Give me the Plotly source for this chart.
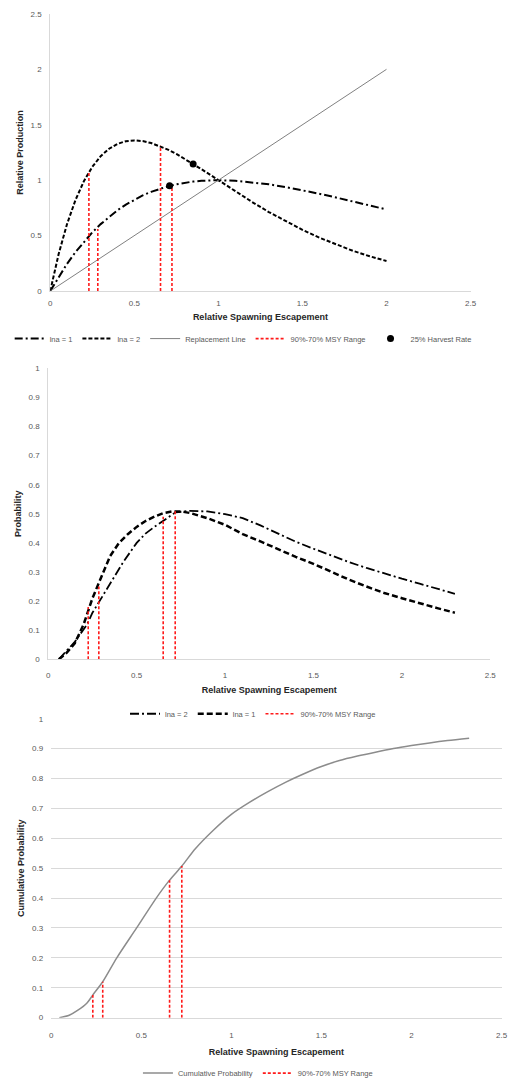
import plotly.graph_objects as go

# ---------------- Top chart data ----------------
s_top = [0, 0.05, 0.1, 0.15, 0.2, 0.25, 0.3, 0.35, 0.4, 0.45, 0.5, 0.55, 0.6, 0.65, 0.7,
         0.75, 0.8, 0.85, 0.9, 0.95, 1.0, 1.1, 1.2, 1.3, 1.4, 1.5, 1.6, 1.7, 1.8, 1.9, 2.0]
prod_lna1 = [0, 0.129, 0.246, 0.351, 0.445, 0.529, 0.604, 0.670, 0.729, 0.780, 0.824, 0.863,
             0.895, 0.922, 0.945, 0.963, 0.977, 0.988, 0.995, 0.999, 1.0, 0.995, 0.982, 0.963,
             0.938, 0.910, 0.878, 0.844, 0.809, 0.773, 0.736]
prod_lna2 = [0, 0.334, 0.605, 0.821, 0.991, 1.120, 1.217, 1.284, 1.328, 1.352, 1.359, 1.353,
             1.335, 1.309, 1.276, 1.237, 1.193, 1.147, 1.099, 1.050, 1.0, 0.901, 0.804, 0.713,
             0.629, 0.552, 0.482, 0.419, 0.363, 0.314, 0.271]
repl_x = [0, 2]
repl_y = [0, 2]
msy_x_top = [0.23, 0.283, 0.656, 0.724]
msy_y_top = [1.07, 0.56, 1.31, 0.93]
harvest_x = [0.71, 0.85]
harvest_y = [0.95, 1.147]

# ---------------- Middle chart data ----------------
s_mid1 = [0.06, 0.10, 0.15, 0.20, 0.25, 0.30, 0.35, 0.40, 0.45, 0.50, 0.55, 0.60, 0.65, 0.70,
          0.75, 0.80, 0.85, 0.90, 1.0, 1.1, 1.2, 1.3, 1.4, 1.5, 1.6, 1.7, 1.8, 1.9, 2.0, 2.1,
          2.2, 2.3]
prob_lna1 = [0, 0.02, 0.055, 0.12, 0.21, 0.28, 0.355, 0.40, 0.43, 0.455, 0.475, 0.49, 0.502,
             0.508, 0.508, 0.503, 0.494, 0.485, 0.462, 0.43, 0.405, 0.378, 0.352, 0.328, 0.30,
             0.274, 0.25, 0.228, 0.21, 0.192, 0.176, 0.16]
s_mid2 = [0.06, 0.09, 0.15, 0.22, 0.25, 0.31, 0.35, 0.425, 0.5, 0.55, 0.6, 0.65, 0.72, 0.8,
          0.85, 0.9, 1.0, 1.1, 1.2, 1.3, 1.4, 1.5, 1.6, 1.7, 1.8, 1.9, 2.0, 2.1, 2.2, 2.3]
prob_lna2 = [0, 0.02, 0.06, 0.12, 0.16, 0.22, 0.26, 0.335, 0.40, 0.432, 0.455, 0.477, 0.505,
             0.51, 0.51, 0.508, 0.499, 0.485, 0.46, 0.432, 0.404, 0.38, 0.356, 0.334, 0.314,
             0.295, 0.277, 0.26, 0.242, 0.225]
msy_x_mid = [0.226, 0.286, 0.65, 0.718]
msy_y_mid = [0.18, 0.25, 0.49, 0.51]

# ---------------- Bottom chart data ----------------
s_cum = [0.045, 0.1, 0.146, 0.2, 0.231, 0.286, 0.364, 0.474, 0.583, 0.657, 0.725, 0.8, 0.9,
         1.0, 1.1, 1.2, 1.3, 1.4, 1.5, 1.6, 1.7, 1.8, 1.9, 2.0, 2.1, 2.2, 2.32]
cum_prob = [0, 0.008, 0.024, 0.05, 0.076, 0.12, 0.2, 0.30, 0.40, 0.46, 0.507, 0.565, 0.627,
            0.68, 0.72, 0.755, 0.787, 0.815, 0.84, 0.86, 0.875, 0.888, 0.90, 0.91, 0.919,
            0.927, 0.935]
msy_x_bot = [0.231, 0.286, 0.657, 0.725]
msy_y_bot = [0.076, 0.12, 0.46, 0.507]

xticks = [0, 0.5, 1, 1.5, 2, 2.5]
xtick_text = ["0", "0.5", "1", "1.5", "2", "2.5"]
yticks_top = [0, 0.5, 1, 1.5, 2, 2.5]
ytick_text_top = ["0", "0.5", "1", "1.5", "2", "2.5"]
yticks_prob = [0, 0.1, 0.2, 0.3, 0.4, 0.5, 0.6, 0.7, 0.8, 0.9, 1]
ytick_text_prob = ["0", "0.1", "0.2", "0.3", "0.4", "0.5", "0.6", "0.7", "0.8", "0.9", "1"]


def vlines(xs, ys):
    vx, vy = [], []
    for x, y in zip(xs, ys):
        vx += [x, x, None]
        vy += [0, y, None]
    return vx, vy


RED = "#ff1a1a"
fig = go.Figure()

# top
fig.add_trace(go.Scatter(x=s_top, y=prod_lna1, mode="lines", name="lna = 1",
                         line=dict(color="black", width=2, dash="8px,3px,2px,3px"),
                         xaxis="x", yaxis="y", legend="legend"))
fig.add_trace(go.Scatter(x=s_top, y=prod_lna2, mode="lines", name="lna = 2",
                         line=dict(color="black", width=2, dash="4px,2px"),
                         xaxis="x", yaxis="y", legend="legend"))
fig.add_trace(go.Scatter(x=repl_x, y=repl_y, mode="lines", name="Replacement Line",
                         line=dict(color="#808080", width=1),
                         xaxis="x", yaxis="y", legend="legend"))
vx, vy = vlines(msy_x_top, msy_y_top)
fig.add_trace(go.Scatter(x=vx, y=vy, mode="lines", name="90%-70% MSY Range",
                         line=dict(color=RED, width=1.6, dash="3px,2px"),
                         xaxis="x", yaxis="y", legend="legend"))
fig.add_trace(go.Scatter(x=harvest_x, y=harvest_y, mode="markers", name="25% Harvest Rate",
                         marker=dict(color="black", size=7),
                         xaxis="x", yaxis="y", legend="legend"))

# middle
fig.add_trace(go.Scatter(x=s_mid2, y=prob_lna2, mode="lines", name="lna = 2",
                         line=dict(color="black", width=1.8, dash="9px,3px,2px,3px"),
                         xaxis="x2", yaxis="y2", legend="legend2"))
fig.add_trace(go.Scatter(x=s_mid1, y=prob_lna1, mode="lines", name="lna = 1",
                         line=dict(color="black", width=2.5, dash="6px,3px"),
                         xaxis="x2", yaxis="y2", legend="legend2"))
vx, vy = vlines(msy_x_mid, msy_y_mid)
fig.add_trace(go.Scatter(x=vx, y=vy, mode="lines", name="90%-70% MSY Range",
                         line=dict(color=RED, width=1.6, dash="3px,2px"),
                         xaxis="x2", yaxis="y2", legend="legend2"))

# bottom
fig.add_trace(go.Scatter(x=s_cum, y=cum_prob, mode="lines", name="Cumulative Probability",
                         line=dict(color="#8c8c8c", width=1.5, shape="spline", smoothing=0.8),
                         xaxis="x3", yaxis="y3", legend="legend3"))
vx, vy = vlines(msy_x_bot, msy_y_bot)
fig.add_trace(go.Scatter(x=vx, y=vy, mode="lines", name="90%-70% MSY Range",
                         line=dict(color=RED, width=1.6, dash="3px,2px"),
                         xaxis="x3", yaxis="y3", legend="legend3"))

H, W = 1088, 512
def py(p):
    return 1 - p / H
def px(p):
    return p / W

tickfont = dict(family="Liberation Sans", size=8, color="#595959")
titlefont = dict(family="Liberation Sans", size=9, color="#262626", weight="bold")
axcommon = dict(showgrid=False, zeroline=False, showline=True, linecolor="#d9d9d9",
                linewidth=1, ticks="", tickfont=tickfont, fixedrange=True)

fig.update_layout(
    width=W, height=H, margin=dict(l=0, r=0, t=0, b=0),
    paper_bgcolor="white", plot_bgcolor="white",
    xaxis=dict(domain=[px(49), px(476)], range=[0, 2.5], tickvals=xticks, ticktext=xtick_text,
               anchor="y", ticklabelstandoff=4,
               title=dict(text="Relative Spawning Escapement", font=titlefont, standoff=7),
               **axcommon),
    yaxis=dict(domain=[py(290), py(10)], range=[0, 2.5], tickvals=yticks_top, ticktext=ytick_text_top,
               anchor="x", ticklabelstandoff=6,
               title=dict(text="Relative Production", font=titlefont, standoff=5),
               **axcommon),
    xaxis2=dict(domain=[px(47), px(496)], range=[0, 2.5], tickvals=xticks, ticktext=xtick_text,
                anchor="y2", ticklabelstandoff=8,
                title=dict(text="Relative Spawning Escapement", font=titlefont, standoff=7),
                **axcommon),
    yaxis2=dict(domain=[py(662), py(368)], range=[0, 1], tickvals=yticks_prob, ticktext=ytick_text_prob,
                anchor="x2", ticklabelstandoff=6,
                title=dict(text="Probability", font=titlefont, standoff=5),
                **axcommon),
    xaxis3=dict(domain=[px(50), px(507.5)], range=[0, 2.5], tickvals=xticks, ticktext=xtick_text,
                anchor="y3", ticklabelstandoff=10,
                title=dict(text="Relative Spawning Escapement", font=titlefont, standoff=9),
                **axcommon),
    yaxis3=dict(domain=[py(1024), py(722)], range=[0, 1], tickvals=yticks_prob, ticktext=ytick_text_prob,
                anchor="x3", ticklabelstandoff=7,
                title=dict(text="Cumulative Probability", font=titlefont, standoff=5),
                showgrid=True, gridcolor="#d9d9d9", gridwidth=1, zeroline=False, showline=False,
                ticks="", tickfont=tickfont, fixedrange=True),
    legend=dict(orientation="h", x=px(245), y=py(338), xanchor="center", yanchor="middle",
                font=dict(family="Liberation Sans", size=7.5, color="#595959"),
                bgcolor="rgba(0,0,0,0)", itemwidth=30, tracegroupgap=0),
    legend2=dict(orientation="h", x=px(255), y=py(717), xanchor="center", yanchor="middle",
                 font=dict(family="Liberation Sans", size=7.5, color="#595959"),
                 bgcolor="rgba(0,0,0,0)", itemwidth=30),
    legend3=dict(orientation="h", x=px(260), y=py(1080), xanchor="center", yanchor="middle",
                 font=dict(family="Liberation Sans", size=7.5, color="#595959"),
                 bgcolor="rgba(0,0,0,0)", itemwidth=30),
    showlegend=True,
)

fig.write_html("out.html")
